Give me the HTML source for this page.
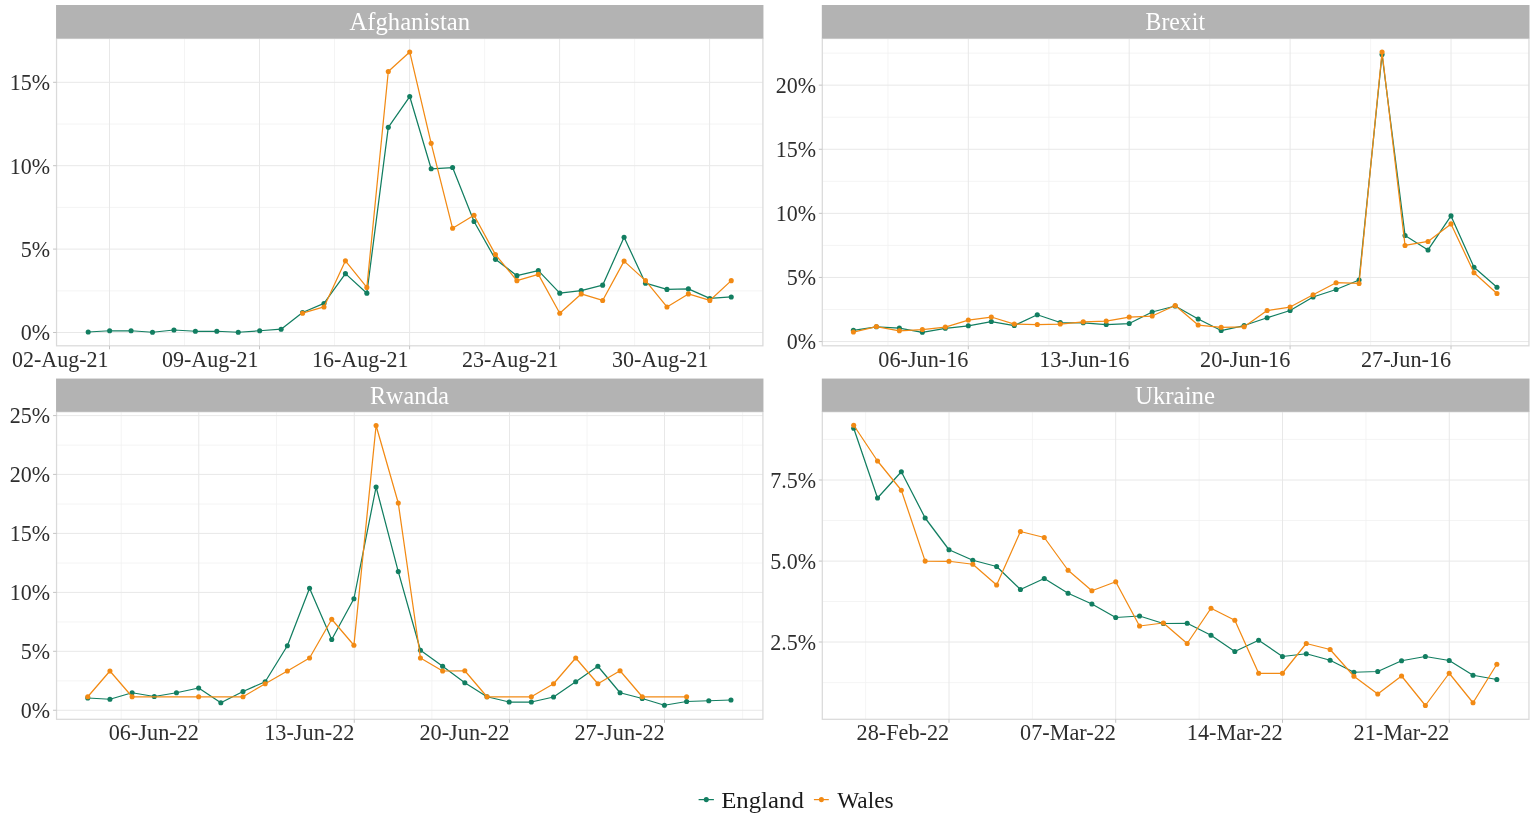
<!DOCTYPE html>
<html lang="en">
<head>
<meta charset="utf-8">
<title>Coverage by nation</title>
<style>
html,body{margin:0;padding:0;background:#fff;}
body{width:1535px;height:821px;overflow:hidden;}
svg{display:block;}
text{font-family:"Liberation Serif","DejaVu Serif",serif;}
.ax{font-size:22.6px;fill:#2e2e2e;}
.st{font-size:24.8px;fill:#ffffff;}
.lg{font-size:24px;fill:#1a1a1a;}
.gmaj{stroke:#e8e8e8;stroke-width:1;fill:none;}
.gmin{stroke:#f1f1f1;stroke-width:0.8;fill:none;}
.tick{stroke:#c4c4c4;stroke-width:1;fill:none;}
.bord{stroke:#dadada;stroke-width:1.25;fill:none;}
.lnE{stroke:#127e61;stroke-width:1.25;fill:none;stroke-linejoin:round;}
.lnW{stroke:#f28a14;stroke-width:1.25;fill:none;stroke-linejoin:round;}
.ptE{fill:#127e61;}
.ptW{fill:#f28a14;}
</style>
</head>
<body>
<svg width="1535" height="821" viewBox="0 0 1535 821">
<rect x="0" y="0" width="1535" height="821" fill="#ffffff"/>
<g id="panel1">
<clipPath id="clip1"><rect x="56.55" y="38.5" width="706.35" height="307.3"/></clipPath>
<path class="gmin" d="M56.55 290.8H762.9M56.55 207.4H762.9M56.55 124H762.9M184.5 38.5V345.8M334.5 38.5V345.8M484.6 38.5V345.8M634.6 38.5V345.8"/>
<path class="gmaj" d="M56.55 332.5H762.9M56.55 249.1H762.9M56.55 165.7H762.9M56.55 82.3H762.9M109.5 38.5V345.8M259.5 38.5V345.8M409.6 38.5V345.8M559.6 38.5V345.8M709.6 38.5V345.8"/>
<polyline class="lnE" clip-path="url(#clip1)" points="88.2,332 109.64,330.75 131.07,330.75 152.5,332.25 173.94,330 195.38,331.25 216.81,331.25 238.25,332.25 259.68,330.75 281.12,329.24 302.55,312.46 323.99,303.44 345.42,273.63 366.85,293.17 388.29,127.34 409.72,96.53 431.16,168.77 452.59,167.57 474.03,221.53 495.46,259.35 516.9,275.64 538.34,270.63 559.77,293.17 581.21,290.67 602.64,285.16 624.08,237.31 645.51,283.15 666.95,289.41 688.38,288.91 709.82,298.43 731.25,296.93"/>
<g class="ptE"><circle cx="88.2" cy="332" r="2.55"/><circle cx="109.64" cy="330.75" r="2.55"/><circle cx="131.07" cy="330.75" r="2.55"/><circle cx="152.5" cy="332.25" r="2.55"/><circle cx="173.94" cy="330" r="2.55"/><circle cx="195.38" cy="331.25" r="2.55"/><circle cx="216.81" cy="331.25" r="2.55"/><circle cx="238.25" cy="332.25" r="2.55"/><circle cx="259.68" cy="330.75" r="2.55"/><circle cx="281.12" cy="329.24" r="2.55"/><circle cx="302.55" cy="312.46" r="2.55"/><circle cx="323.99" cy="303.44" r="2.55"/><circle cx="345.42" cy="273.63" r="2.55"/><circle cx="366.85" cy="293.17" r="2.55"/><circle cx="388.29" cy="127.34" r="2.55"/><circle cx="409.72" cy="96.53" r="2.55"/><circle cx="431.16" cy="168.77" r="2.55"/><circle cx="452.59" cy="167.57" r="2.55"/><circle cx="474.03" cy="221.53" r="2.55"/><circle cx="495.46" cy="259.35" r="2.55"/><circle cx="516.9" cy="275.64" r="2.55"/><circle cx="538.34" cy="270.63" r="2.55"/><circle cx="559.77" cy="293.17" r="2.55"/><circle cx="581.21" cy="290.67" r="2.55"/><circle cx="602.64" cy="285.16" r="2.55"/><circle cx="624.08" cy="237.31" r="2.55"/><circle cx="645.51" cy="283.15" r="2.55"/><circle cx="666.95" cy="289.41" r="2.55"/><circle cx="688.38" cy="288.91" r="2.55"/><circle cx="709.82" cy="298.43" r="2.55"/><circle cx="731.25" cy="296.93" r="2.55"/></g>
<polyline class="lnW" clip-path="url(#clip1)" points="302.55,313.21 323.99,306.95 345.42,260.86 366.85,287.41 388.29,71.48 409.72,51.94 431.16,143.37 452.59,228.29 474.03,215.27 495.46,254.59 516.9,280.65 538.34,274.38 559.77,313.21 581.21,293.92 602.64,300.44 624.08,261.11 645.51,280.65 666.95,306.95 688.38,293.92 709.82,300.44 731.25,280.65"/>
<g class="ptW"><circle cx="302.55" cy="313.21" r="2.55"/><circle cx="323.99" cy="306.95" r="2.55"/><circle cx="345.42" cy="260.86" r="2.55"/><circle cx="366.85" cy="287.41" r="2.55"/><circle cx="388.29" cy="71.48" r="2.55"/><circle cx="409.72" cy="51.94" r="2.55"/><circle cx="431.16" cy="143.37" r="2.55"/><circle cx="452.59" cy="228.29" r="2.55"/><circle cx="474.03" cy="215.27" r="2.55"/><circle cx="495.46" cy="254.59" r="2.55"/><circle cx="516.9" cy="280.65" r="2.55"/><circle cx="538.34" cy="274.38" r="2.55"/><circle cx="559.77" cy="313.21" r="2.55"/><circle cx="581.21" cy="293.92" r="2.55"/><circle cx="602.64" cy="300.44" r="2.55"/><circle cx="624.08" cy="261.11" r="2.55"/><circle cx="645.51" cy="280.65" r="2.55"/><circle cx="666.95" cy="306.95" r="2.55"/><circle cx="688.38" cy="293.92" r="2.55"/><circle cx="709.82" cy="300.44" r="2.55"/><circle cx="731.25" cy="280.65" r="2.55"/></g>
<rect class="bord" x="56.55" y="38.5" width="706.35" height="307.3"/>
<rect x="56.05" y="5" width="707.4" height="33.5" fill="#b3b3b3"/>
<text class="st" x="409.75" y="30.3" text-anchor="middle" textLength="120.5" lengthAdjust="spacingAndGlyphs">Afghanistan</text>
<path class="tick" d="M53.05 332.5H56.55M53.05 249.1H56.55M53.05 165.7H56.55M53.05 82.3H56.55M109.5 345.8V349.3M259.5 345.8V349.3M409.6 345.8V349.3M559.6 345.8V349.3M709.6 345.8V349.3"/>
<text class="ax" x="50.2" y="340.3" text-anchor="end" textLength="29.33" lengthAdjust="spacingAndGlyphs">0%</text>
<text class="ax" x="50.2" y="256.9" text-anchor="end" textLength="29.33" lengthAdjust="spacingAndGlyphs">5%</text>
<text class="ax" x="50.2" y="173.5" text-anchor="end" textLength="40.33" lengthAdjust="spacingAndGlyphs">10%</text>
<text class="ax" x="50.2" y="90.1" text-anchor="end" textLength="40.33" lengthAdjust="spacingAndGlyphs">15%</text>
<text class="ax" x="108.5" y="366.8" text-anchor="end" textLength="96.54" lengthAdjust="spacingAndGlyphs">02-Aug-21</text>
<text class="ax" x="258.5" y="366.8" text-anchor="end" textLength="96.54" lengthAdjust="spacingAndGlyphs">09-Aug-21</text>
<text class="ax" x="408.6" y="366.8" text-anchor="end" textLength="96.54" lengthAdjust="spacingAndGlyphs">16-Aug-21</text>
<text class="ax" x="558.6" y="366.8" text-anchor="end" textLength="96.54" lengthAdjust="spacingAndGlyphs">23-Aug-21</text>
<text class="ax" x="708.6" y="366.8" text-anchor="end" textLength="96.54" lengthAdjust="spacingAndGlyphs">30-Aug-21</text>
</g>
<g id="panel2">
<clipPath id="clip2"><rect x="822.3" y="38.5" width="706.65" height="307.3"/></clipPath>
<path class="gmin" d="M822.3 309.5H1528.95M822.3 245.4H1528.95M822.3 181.3H1528.95M822.3 117.2H1528.95M822.3 53.1H1528.95M887.9 38.5V345.8M1048.8 38.5V345.8M1209.7 38.5V345.8M1370.6 38.5V345.8"/>
<path class="gmaj" d="M822.3 341.55H1528.95M822.3 277.45H1528.95M822.3 213.35H1528.95M822.3 149.25H1528.95M822.3 85.15H1528.95M968.3 38.5V345.8M1129.2 38.5V345.8M1290.1 38.5V345.8M1451 38.5V345.8"/>
<polyline class="lnE" clip-path="url(#clip2)" points="853.4,330.29 876.38,326.78 899.37,328.03 922.36,332.29 945.34,328.28 968.32,325.78 991.31,321.53 1014.29,325.53 1037.28,314.77 1060.26,322.53 1083.25,322.78 1106.23,324.53 1129.22,323.53 1152.2,312.02 1175.19,306.01 1198.17,319.02 1221.16,330.54 1244.14,325.53 1267.13,317.77 1290.12,310.51 1313.1,297 1336.09,289.49 1359.07,279.98 1382.05,54.46 1405.04,235.43 1428.03,249.94 1451.01,215.9 1473.99,267.21 1496.98,287.24"/>
<g class="ptE"><circle cx="853.4" cy="330.29" r="2.55"/><circle cx="876.38" cy="326.78" r="2.55"/><circle cx="899.37" cy="328.03" r="2.55"/><circle cx="922.36" cy="332.29" r="2.55"/><circle cx="945.34" cy="328.28" r="2.55"/><circle cx="968.32" cy="325.78" r="2.55"/><circle cx="991.31" cy="321.53" r="2.55"/><circle cx="1014.29" cy="325.53" r="2.55"/><circle cx="1037.28" cy="314.77" r="2.55"/><circle cx="1060.26" cy="322.53" r="2.55"/><circle cx="1083.25" cy="322.78" r="2.55"/><circle cx="1106.23" cy="324.53" r="2.55"/><circle cx="1129.22" cy="323.53" r="2.55"/><circle cx="1152.2" cy="312.02" r="2.55"/><circle cx="1175.19" cy="306.01" r="2.55"/><circle cx="1198.17" cy="319.02" r="2.55"/><circle cx="1221.16" cy="330.54" r="2.55"/><circle cx="1244.14" cy="325.53" r="2.55"/><circle cx="1267.13" cy="317.77" r="2.55"/><circle cx="1290.12" cy="310.51" r="2.55"/><circle cx="1313.1" cy="297" r="2.55"/><circle cx="1336.09" cy="289.49" r="2.55"/><circle cx="1359.07" cy="279.98" r="2.55"/><circle cx="1382.05" cy="54.46" r="2.55"/><circle cx="1405.04" cy="235.43" r="2.55"/><circle cx="1428.03" cy="249.94" r="2.55"/><circle cx="1451.01" cy="215.9" r="2.55"/><circle cx="1473.99" cy="267.21" r="2.55"/><circle cx="1496.98" cy="287.24" r="2.55"/></g>
<polyline class="lnW" clip-path="url(#clip2)" points="853.4,332.04 876.38,326.53 899.37,330.79 922.36,329.54 945.34,327.03 968.32,320.03 991.31,317.02 1014.29,324.03 1037.28,324.53 1060.26,324.03 1083.25,321.78 1106.23,321.03 1129.22,317.02 1152.2,316.02 1175.19,305.51 1198.17,325.03 1221.16,327.28 1244.14,326.78 1267.13,310.51 1290.12,307.01 1313.1,294.75 1336.09,282.73 1359.07,283.48 1382.05,51.96 1405.04,245.44 1428.03,241.43 1451.01,223.91 1473.99,272.72 1496.98,293.49"/>
<g class="ptW"><circle cx="853.4" cy="332.04" r="2.55"/><circle cx="876.38" cy="326.53" r="2.55"/><circle cx="899.37" cy="330.79" r="2.55"/><circle cx="922.36" cy="329.54" r="2.55"/><circle cx="945.34" cy="327.03" r="2.55"/><circle cx="968.32" cy="320.03" r="2.55"/><circle cx="991.31" cy="317.02" r="2.55"/><circle cx="1014.29" cy="324.03" r="2.55"/><circle cx="1037.28" cy="324.53" r="2.55"/><circle cx="1060.26" cy="324.03" r="2.55"/><circle cx="1083.25" cy="321.78" r="2.55"/><circle cx="1106.23" cy="321.03" r="2.55"/><circle cx="1129.22" cy="317.02" r="2.55"/><circle cx="1152.2" cy="316.02" r="2.55"/><circle cx="1175.19" cy="305.51" r="2.55"/><circle cx="1198.17" cy="325.03" r="2.55"/><circle cx="1221.16" cy="327.28" r="2.55"/><circle cx="1244.14" cy="326.78" r="2.55"/><circle cx="1267.13" cy="310.51" r="2.55"/><circle cx="1290.12" cy="307.01" r="2.55"/><circle cx="1313.1" cy="294.75" r="2.55"/><circle cx="1336.09" cy="282.73" r="2.55"/><circle cx="1359.07" cy="283.48" r="2.55"/><circle cx="1382.05" cy="51.96" r="2.55"/><circle cx="1405.04" cy="245.44" r="2.55"/><circle cx="1428.03" cy="241.43" r="2.55"/><circle cx="1451.01" cy="223.91" r="2.55"/><circle cx="1473.99" cy="272.72" r="2.55"/><circle cx="1496.98" cy="293.49" r="2.55"/></g>
<rect class="bord" x="822.3" y="38.5" width="706.65" height="307.3"/>
<rect x="821.8" y="5" width="707.7" height="33.5" fill="#b3b3b3"/>
<text class="st" x="1175.25" y="30.3" text-anchor="middle" textLength="59.5" lengthAdjust="spacingAndGlyphs">Brexit</text>
<path class="tick" d="M818.8 341.55H822.3M818.8 277.45H822.3M818.8 213.35H822.3M818.8 149.25H822.3M818.8 85.15H822.3M968.3 345.8V349.3M1129.2 345.8V349.3M1290.1 345.8V349.3M1451 345.8V349.3"/>
<text class="ax" x="816.2" y="349.35" text-anchor="end" textLength="29.33" lengthAdjust="spacingAndGlyphs">0%</text>
<text class="ax" x="816.2" y="285.25" text-anchor="end" textLength="29.33" lengthAdjust="spacingAndGlyphs">5%</text>
<text class="ax" x="816.2" y="221.15" text-anchor="end" textLength="40.33" lengthAdjust="spacingAndGlyphs">10%</text>
<text class="ax" x="816.2" y="157.05" text-anchor="end" textLength="40.33" lengthAdjust="spacingAndGlyphs">15%</text>
<text class="ax" x="816.2" y="92.95" text-anchor="end" textLength="40.33" lengthAdjust="spacingAndGlyphs">20%</text>
<text class="ax" x="968.5" y="366.8" text-anchor="end" textLength="90.22" lengthAdjust="spacingAndGlyphs">06-Jun-16</text>
<text class="ax" x="1129.4" y="366.8" text-anchor="end" textLength="90.22" lengthAdjust="spacingAndGlyphs">13-Jun-16</text>
<text class="ax" x="1290.3" y="366.8" text-anchor="end" textLength="90.22" lengthAdjust="spacingAndGlyphs">20-Jun-16</text>
<text class="ax" x="1451.2" y="366.8" text-anchor="end" textLength="90.22" lengthAdjust="spacingAndGlyphs">27-Jun-16</text>
</g>
<g id="panel3">
<clipPath id="clip3"><rect x="56.55" y="411.75" width="706.35" height="307.55"/></clipPath>
<path class="gmin" d="M56.55 680.8H762.9M56.55 621.9H762.9M56.55 563H762.9M56.55 504H762.9M56.55 445.1H762.9M121.2 411.75V719.3M276.5 411.75V719.3M431.8 411.75V719.3M587 411.75V719.3M742.6 411.75V719.3"/>
<path class="gmaj" d="M56.55 710.25H762.9M56.55 651.3H762.9M56.55 592.4H762.9M56.55 533.4H762.9M56.55 474.4H762.9M56.55 415.6H762.9M198.75 411.75V719.3M354.25 411.75V719.3M509.5 411.75V719.3M664.5 411.75V719.3"/>
<polyline class="lnE" clip-path="url(#clip3)" points="87.75,698 109.93,699.25 132.11,692.75 154.29,696.5 176.47,692.75 198.65,688 220.83,702.75 243.01,691.5 265.19,681.75 287.37,645.75 309.55,588.25 331.73,639.5 353.91,598.75 376.09,487 398.27,571.6 420.45,650.25 442.63,666.25 464.81,682.75 486.99,696.75 509.17,702 531.35,702 553.53,697 575.71,681.75 597.89,666.25 620.07,692.75 642.25,698.5 664.43,705.25 686.61,701.5 708.79,700.75 730.97,700"/>
<g class="ptE"><circle cx="87.75" cy="698" r="2.55"/><circle cx="109.93" cy="699.25" r="2.55"/><circle cx="132.11" cy="692.75" r="2.55"/><circle cx="154.29" cy="696.5" r="2.55"/><circle cx="176.47" cy="692.75" r="2.55"/><circle cx="198.65" cy="688" r="2.55"/><circle cx="220.83" cy="702.75" r="2.55"/><circle cx="243.01" cy="691.5" r="2.55"/><circle cx="265.19" cy="681.75" r="2.55"/><circle cx="287.37" cy="645.75" r="2.55"/><circle cx="309.55" cy="588.25" r="2.55"/><circle cx="331.73" cy="639.5" r="2.55"/><circle cx="353.91" cy="598.75" r="2.55"/><circle cx="376.09" cy="487" r="2.55"/><circle cx="398.27" cy="571.6" r="2.55"/><circle cx="420.45" cy="650.25" r="2.55"/><circle cx="442.63" cy="666.25" r="2.55"/><circle cx="464.81" cy="682.75" r="2.55"/><circle cx="486.99" cy="696.75" r="2.55"/><circle cx="509.17" cy="702" r="2.55"/><circle cx="531.35" cy="702" r="2.55"/><circle cx="553.53" cy="697" r="2.55"/><circle cx="575.71" cy="681.75" r="2.55"/><circle cx="597.89" cy="666.25" r="2.55"/><circle cx="620.07" cy="692.75" r="2.55"/><circle cx="642.25" cy="698.5" r="2.55"/><circle cx="664.43" cy="705.25" r="2.55"/><circle cx="686.61" cy="701.5" r="2.55"/><circle cx="708.79" cy="700.75" r="2.55"/><circle cx="730.97" cy="700" r="2.55"/></g>
<polyline class="lnW" clip-path="url(#clip3)" points="87.75,696.75 109.93,671 132.11,696.75 198.65,696.75 243.01,696.75 265.19,683.75 287.37,671 309.55,658 331.73,619.25 353.91,645.25 376.09,425.5 398.27,503 420.45,658 442.63,671 464.81,670.75 486.99,696.75 531.35,696.75 553.53,683.75 575.71,658 597.89,683.75 620.07,670.75 642.25,696.75 686.61,696.75"/>
<g class="ptW"><circle cx="87.75" cy="696.75" r="2.55"/><circle cx="109.93" cy="671" r="2.55"/><circle cx="132.11" cy="696.75" r="2.55"/><circle cx="198.65" cy="696.75" r="2.55"/><circle cx="243.01" cy="696.75" r="2.55"/><circle cx="265.19" cy="683.75" r="2.55"/><circle cx="287.37" cy="671" r="2.55"/><circle cx="309.55" cy="658" r="2.55"/><circle cx="331.73" cy="619.25" r="2.55"/><circle cx="353.91" cy="645.25" r="2.55"/><circle cx="376.09" cy="425.5" r="2.55"/><circle cx="398.27" cy="503" r="2.55"/><circle cx="420.45" cy="658" r="2.55"/><circle cx="442.63" cy="671" r="2.55"/><circle cx="464.81" cy="670.75" r="2.55"/><circle cx="486.99" cy="696.75" r="2.55"/><circle cx="531.35" cy="696.75" r="2.55"/><circle cx="553.53" cy="683.75" r="2.55"/><circle cx="575.71" cy="658" r="2.55"/><circle cx="597.89" cy="683.75" r="2.55"/><circle cx="620.07" cy="670.75" r="2.55"/><circle cx="642.25" cy="696.75" r="2.55"/><circle cx="686.61" cy="696.75" r="2.55"/></g>
<rect class="bord" x="56.55" y="411.75" width="706.35" height="307.55"/>
<rect x="56.05" y="378.55" width="707.4" height="33.2" fill="#b3b3b3"/>
<text class="st" x="409.5" y="403.85" text-anchor="middle" textLength="79" lengthAdjust="spacingAndGlyphs">Rwanda</text>
<path class="tick" d="M53.05 710.25H56.55M53.05 651.3H56.55M53.05 592.4H56.55M53.05 533.4H56.55M53.05 474.4H56.55M53.05 415.6H56.55M198.75 719.3V722.8M354.25 719.3V722.8M509.5 719.3V722.8M664.5 719.3V722.8"/>
<text class="ax" x="50.2" y="718.05" text-anchor="end" textLength="29.33" lengthAdjust="spacingAndGlyphs">0%</text>
<text class="ax" x="50.2" y="659.1" text-anchor="end" textLength="29.33" lengthAdjust="spacingAndGlyphs">5%</text>
<text class="ax" x="50.2" y="600.2" text-anchor="end" textLength="40.33" lengthAdjust="spacingAndGlyphs">10%</text>
<text class="ax" x="50.2" y="541.2" text-anchor="end" textLength="40.33" lengthAdjust="spacingAndGlyphs">15%</text>
<text class="ax" x="50.2" y="482.2" text-anchor="end" textLength="40.33" lengthAdjust="spacingAndGlyphs">20%</text>
<text class="ax" x="50.2" y="423.4" text-anchor="end" textLength="40.33" lengthAdjust="spacingAndGlyphs">25%</text>
<text class="ax" x="198.95" y="740.1" text-anchor="end" textLength="90.22" lengthAdjust="spacingAndGlyphs">06-Jun-22</text>
<text class="ax" x="354.45" y="740.1" text-anchor="end" textLength="90.22" lengthAdjust="spacingAndGlyphs">13-Jun-22</text>
<text class="ax" x="509.7" y="740.1" text-anchor="end" textLength="90.22" lengthAdjust="spacingAndGlyphs">20-Jun-22</text>
<text class="ax" x="664.7" y="740.1" text-anchor="end" textLength="90.22" lengthAdjust="spacingAndGlyphs">27-Jun-22</text>
</g>
<g id="panel4">
<clipPath id="clip4"><rect x="822.3" y="411.75" width="706.65" height="307.55"/></clipPath>
<path class="gmin" d="M822.3 682.6H1528.95M822.3 601.5H1528.95M822.3 520.5H1528.95M822.3 439.4H1528.95M865.6 411.75V719.3M1032.4 411.75V719.3M1199.1 411.75V719.3M1365.9 411.75V719.3"/>
<path class="gmaj" d="M822.3 642H1528.95M822.3 561.1H1528.95M822.3 480H1528.95M949 411.75V719.3M1115.7 411.75V719.3M1282.5 411.75V719.3M1449.25 411.75V719.3"/>
<polyline class="lnE" clip-path="url(#clip4)" points="853.7,428.25 877.52,498 901.34,471.75 925.16,518 948.98,549.75 972.8,560.25 996.62,566.5 1020.44,589.5 1044.26,578.5 1068.08,593.25 1091.9,604 1115.72,617.5 1139.54,616 1163.36,623.5 1187.18,623.25 1211,635.25 1234.82,651.5 1258.64,640.25 1282.46,656.5 1306.28,653.75 1330.1,660.25 1353.92,672.25 1377.74,671.5 1401.56,660.75 1425.38,656.5 1449.2,660.5 1473.02,675.25 1496.84,679.5"/>
<g class="ptE"><circle cx="853.7" cy="428.25" r="2.55"/><circle cx="877.52" cy="498" r="2.55"/><circle cx="901.34" cy="471.75" r="2.55"/><circle cx="925.16" cy="518" r="2.55"/><circle cx="948.98" cy="549.75" r="2.55"/><circle cx="972.8" cy="560.25" r="2.55"/><circle cx="996.62" cy="566.5" r="2.55"/><circle cx="1020.44" cy="589.5" r="2.55"/><circle cx="1044.26" cy="578.5" r="2.55"/><circle cx="1068.08" cy="593.25" r="2.55"/><circle cx="1091.9" cy="604" r="2.55"/><circle cx="1115.72" cy="617.5" r="2.55"/><circle cx="1139.54" cy="616" r="2.55"/><circle cx="1163.36" cy="623.5" r="2.55"/><circle cx="1187.18" cy="623.25" r="2.55"/><circle cx="1211" cy="635.25" r="2.55"/><circle cx="1234.82" cy="651.5" r="2.55"/><circle cx="1258.64" cy="640.25" r="2.55"/><circle cx="1282.46" cy="656.5" r="2.55"/><circle cx="1306.28" cy="653.75" r="2.55"/><circle cx="1330.1" cy="660.25" r="2.55"/><circle cx="1353.92" cy="672.25" r="2.55"/><circle cx="1377.74" cy="671.5" r="2.55"/><circle cx="1401.56" cy="660.75" r="2.55"/><circle cx="1425.38" cy="656.5" r="2.55"/><circle cx="1449.2" cy="660.5" r="2.55"/><circle cx="1473.02" cy="675.25" r="2.55"/><circle cx="1496.84" cy="679.5" r="2.55"/></g>
<polyline class="lnW" clip-path="url(#clip4)" points="853.7,425.25 877.52,461 901.34,490.25 925.16,561.1 948.98,561.25 972.8,564.25 996.62,585 1020.44,531.5 1044.26,537.5 1068.08,570.25 1091.9,590.75 1115.72,581.75 1139.54,626 1163.36,623 1187.18,643.5 1211,608.25 1234.82,620.25 1258.64,673.25 1282.46,673.25 1306.28,643.5 1330.1,649.5 1353.92,676.25 1377.74,694 1401.56,676 1425.38,705.5 1449.2,673.25 1473.02,702.75 1496.84,664.25"/>
<g class="ptW"><circle cx="853.7" cy="425.25" r="2.55"/><circle cx="877.52" cy="461" r="2.55"/><circle cx="901.34" cy="490.25" r="2.55"/><circle cx="925.16" cy="561.1" r="2.55"/><circle cx="948.98" cy="561.25" r="2.55"/><circle cx="972.8" cy="564.25" r="2.55"/><circle cx="996.62" cy="585" r="2.55"/><circle cx="1020.44" cy="531.5" r="2.55"/><circle cx="1044.26" cy="537.5" r="2.55"/><circle cx="1068.08" cy="570.25" r="2.55"/><circle cx="1091.9" cy="590.75" r="2.55"/><circle cx="1115.72" cy="581.75" r="2.55"/><circle cx="1139.54" cy="626" r="2.55"/><circle cx="1163.36" cy="623" r="2.55"/><circle cx="1187.18" cy="643.5" r="2.55"/><circle cx="1211" cy="608.25" r="2.55"/><circle cx="1234.82" cy="620.25" r="2.55"/><circle cx="1258.64" cy="673.25" r="2.55"/><circle cx="1282.46" cy="673.25" r="2.55"/><circle cx="1306.28" cy="643.5" r="2.55"/><circle cx="1330.1" cy="649.5" r="2.55"/><circle cx="1353.92" cy="676.25" r="2.55"/><circle cx="1377.74" cy="694" r="2.55"/><circle cx="1401.56" cy="676" r="2.55"/><circle cx="1425.38" cy="705.5" r="2.55"/><circle cx="1449.2" cy="673.25" r="2.55"/><circle cx="1473.02" cy="702.75" r="2.55"/><circle cx="1496.84" cy="664.25" r="2.55"/></g>
<rect class="bord" x="822.3" y="411.75" width="706.65" height="307.55"/>
<rect x="821.8" y="378.55" width="707.7" height="33.2" fill="#b3b3b3"/>
<text class="st" x="1175" y="403.85" text-anchor="middle" textLength="80" lengthAdjust="spacingAndGlyphs">Ukraine</text>
<path class="tick" d="M818.8 642H822.3M818.8 561.1H822.3M818.8 480H822.3M949 719.3V722.8M1115.7 719.3V722.8M1282.5 719.3V722.8M1449.25 719.3V722.8"/>
<text class="ax" x="816.2" y="649.8" text-anchor="end" textLength="45.83" lengthAdjust="spacingAndGlyphs">2.5%</text>
<text class="ax" x="816.2" y="568.9" text-anchor="end" textLength="45.83" lengthAdjust="spacingAndGlyphs">5.0%</text>
<text class="ax" x="816.2" y="487.8" text-anchor="end" textLength="45.83" lengthAdjust="spacingAndGlyphs">7.5%</text>
<text class="ax" x="949.2" y="740.1" text-anchor="end" textLength="92.65" lengthAdjust="spacingAndGlyphs">28-Feb-22</text>
<text class="ax" x="1115.9" y="740.1" text-anchor="end" textLength="95.87" lengthAdjust="spacingAndGlyphs">07-Mar-22</text>
<text class="ax" x="1282.7" y="740.1" text-anchor="end" textLength="95.87" lengthAdjust="spacingAndGlyphs">14-Mar-22</text>
<text class="ax" x="1449.45" y="740.1" text-anchor="end" textLength="95.87" lengthAdjust="spacingAndGlyphs">21-Mar-22</text>
</g>
<g id="legend">
<path class="lnE" d="M698.6 799.6H713.9"/><circle class="ptE" cx="706.3" cy="799.6" r="2.55"/>
<text class="lg" x="721.2" y="808" textLength="82.6" lengthAdjust="spacingAndGlyphs">England</text>
<path class="lnW" d="M813.9 799.6H828.8"/><circle class="ptW" cx="821.4" cy="799.6" r="2.55"/>
<text class="lg" x="837.2" y="808" textLength="56.4" lengthAdjust="spacingAndGlyphs">Wales</text>
</g>
</svg>
</body>
</html>
